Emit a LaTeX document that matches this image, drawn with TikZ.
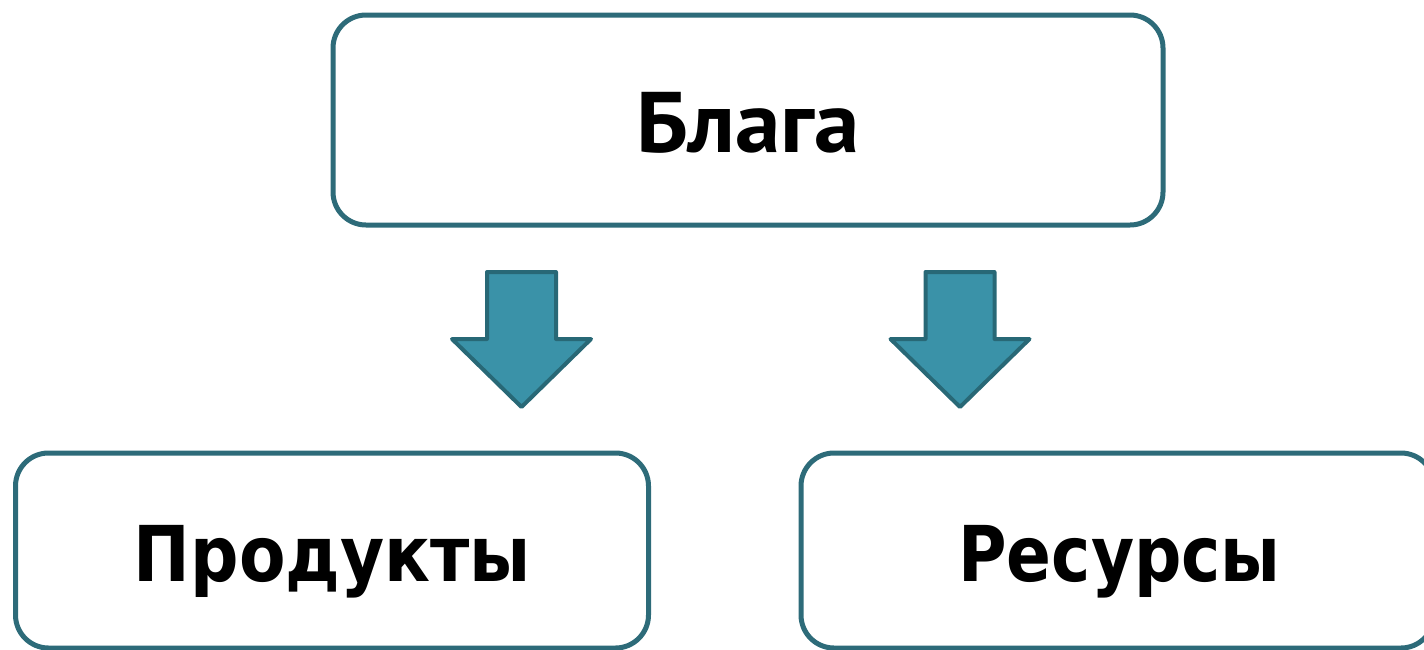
\documentclass[tikz,border=0pt]{standalone}
\usepackage{fontspec}
\setmainfont{DejaVu Sans}
\newfontfamily\topfont{PT Sans}
\definecolor{boxc}{HTML}{2D6B79}
\definecolor{arrfill}{HTML}{3A92A8}
\definecolor{arrline}{HTML}{286876}
\begin{document}
\begin{tikzpicture}[x=1pt,y=-1pt,
  box/.style={draw=boxc, line width=5pt, rounded corners=33pt, fill=white, inner sep=0pt},
  toplbl/.style={font=\topfont\bfseries\fontsize{86}{100}\selectfont, inner sep=0pt, anchor=base},
  botlbl/.style={font=\bfseries\fontsize{77}{90}\selectfont, inner sep=0pt, anchor=base},
  blockarrow/.style={draw=arrline, fill=arrfill, line width=4pt, line join=round}]
\useasboundingbox (0,0) rectangle (1424,649);
\clip (0,0) rectangle (1424,649);
\node[box, minimum width=830pt, minimum height=210pt] (blaga) at (748,120) {};
\node[box, minimum width=633pt, minimum height=195pt] (prod) at (332,550.5) {};
\node[box, minimum width=633pt, minimum height=195pt] (res) at (1117.5,550.5) {};
\node[toplbl] (tb) at (748,152) {\scalebox{1.06}[1]{Блага}};
\node[botlbl] (tp) at (332.5,581) {\scalebox{0.88}[1]{Продукты}};
\node[botlbl] (tr) at (1119.5,581) {\scalebox{0.86}[1]{Ресурсы}};
\coordinate (a1) at (521.5,272);
\coordinate (a2) at (960,272);
\foreach \c in {a1,a2}{
  \draw[blockarrow] (\c) ++(-34.5,0) -- ++(69,0) -- ++(0,67) -- ++(35,0)
     -- ++(-69.5,68) -- ++(-69.5,-68) -- ++(35,0) -- cycle;
}
\end{tikzpicture}
\end{document}
